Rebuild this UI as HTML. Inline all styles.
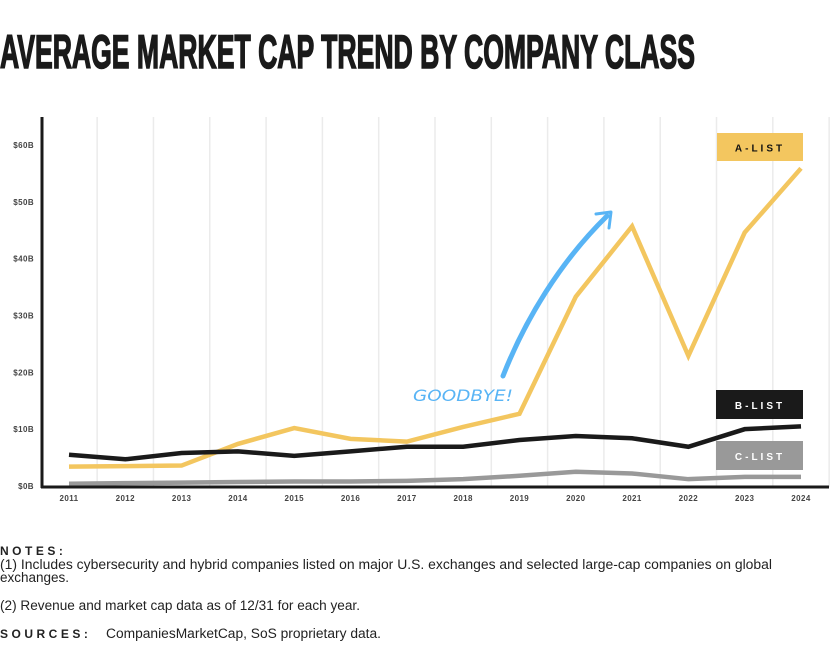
<!DOCTYPE html>
<html><head><meta charset="utf-8"><style>
html,body{margin:0;padding:0;background:#fff;}
svg{display:block;}
</style></head><body>
<svg id="chart" width="830" height="665" xmlns="http://www.w3.org/2000/svg" font-family="Liberation Sans, sans-serif">
<text x="0" y="68" font-family="Liberation Sans Narrow, Liberation Sans, sans-serif" font-weight="bold" font-size="47" textLength="695" lengthAdjust="spacingAndGlyphs" fill="#1a1a1a" stroke="#1a1a1a" stroke-width="1.6">AVERAGE MARKET CAP TREND BY COMPANY CLASS</text>
<g id="grid"></g>
<g id="yticks"></g>
<g id="xticks"></g>
<g id="lines"></g>
<line x1="42" y1="117" x2="42" y2="488" stroke="#1a1a1a" stroke-width="3"/>
<line x1="41" y1="487" x2="829" y2="487" stroke="#1a1a1a" stroke-width="3"/>
<g><rect x="717" y="133" width="86" height="28" fill="#f3c65f"/><text x="760" y="151.5" text-anchor="middle" font-size="10" font-weight="bold" letter-spacing="3" fill="#111">A-LIST</text></g>
<g><rect x="716" y="390" width="87" height="29" fill="#1a1a1a"/><text x="760" y="409" text-anchor="middle" font-size="10" font-weight="bold" letter-spacing="3" fill="#fff">B-LIST</text></g>
<g><rect x="716" y="441" width="87" height="29" fill="#999"/><text x="760" y="460" text-anchor="middle" font-size="10" font-weight="bold" letter-spacing="3" fill="#fff">C-LIST</text></g>
<g>
<text x="413" y="401" font-family="DejaVu Sans, sans-serif" font-size="16" font-style="italic" fill="#58b4f5" textLength="100" lengthAdjust="spacingAndGlyphs">GOODBYE!</text>
<path d="M503 376 C525 320, 560 262, 607 216" stroke="#58b4f5" stroke-width="5" fill="none" stroke-linecap="round"/>
<path d="M596 214 L611 212 L609 228" stroke="#58b4f5" stroke-width="3" fill="none" stroke-linecap="round" stroke-linejoin="round"/>
</g>
<g font-size="13.5" fill="#222">
<text x="0" y="555" font-weight="bold" letter-spacing="3.5" font-size="12">NOTES:</text>
<text x="0" y="569" textLength="772" lengthAdjust="spacingAndGlyphs">(1) Includes cybersecurity and hybrid companies listed on major U.S. exchanges and selected large-cap companies on global</text>
<text x="0" y="582">exchanges.</text>
<text x="0" y="610" textLength="360" lengthAdjust="spacingAndGlyphs">(2) Revenue and market cap data as of 12/31 for each year.</text>
<text x="0" y="638" font-weight="bold" letter-spacing="3.5" font-size="12">SOURCES:</text>
<text x="106" y="638" textLength="275" lengthAdjust="spacingAndGlyphs">CompaniesMarketCap, SoS proprietary data.</text>
</g>
</svg>
<script>
const years = [2011,2012,2013,2014,2015,2016,2017,2018,2019,2020,2021,2022,2023,2024];
const aList = [3.4,3.5,3.6,7.4,10.2,8.3,7.8,10.4,12.7,33.3,45.7,22.9,44.6,55.9];
const bList = [5.5,4.7,5.8,6.1,5.3,6.1,6.9,6.9,8.1,8.8,8.4,6.9,10.0,10.5];
const cList = [0.4,0.5,0.6,0.7,0.8,0.8,0.9,1.2,1.8,2.5,2.2,1.2,1.6,1.6];
const yTicks = [0,10,20,30,40,50,60];
const yTickLabels = ['$0B','$10B','$20B','$30B','$40B','$50B','$60B'];

const NS='http://www.w3.org/2000/svg';
function x(i){return 69 + i*(801-69)/(years.length-1);}
function y(v){return 486 - v*(486-145)/60;}
function mk(tag,attrs,parent){const e=document.createElementNS(NS,tag);for(const k in attrs)e.setAttribute(k,attrs[k]);parent.appendChild(e);return e;}
const grid=document.getElementById('grid');
for(let i=0;i<years.length;i++){
  const l=mk('line',{x1:x(i)+28.15,x2:x(i)+28.15,y1:117,y2:487,stroke:'#ebebeb','stroke-width':1.5},grid);
  
  
}
const yt=document.getElementById('yticks');
yTicks.forEach((v,i)=>{
  const t=mk('text',{x:34,y:y(v)+3,'text-anchor':'end','font-size':8,'font-weight':'bold',fill:'#444','letter-spacing':0.4},yt);
  t.textContent=yTickLabels[i];
  
  
});
const xt=document.getElementById('xticks');
years.forEach((yr,i)=>{
  const t=mk('text',{x:x(i),y:501,'text-anchor':'middle','font-size':8,'font-weight':'bold',fill:'#444','letter-spacing':0.4},xt);
  t.textContent=yr;
  
  
});
const lg=document.getElementById('lines');
[[cList,'#999','c-list-line'],[aList,'#f3c65f','a-list-line'],[bList,'#1a1a1a','b-list-line']].forEach(([d,c,n])=>{
  const p=mk('polyline',{points:d.map((v,i)=>x(i)+','+y(v)).join(' '),fill:'none',stroke:c,'stroke-width':4.5,'stroke-linejoin':'miter'},lg);
  
  
});
</script>
</body></html>
